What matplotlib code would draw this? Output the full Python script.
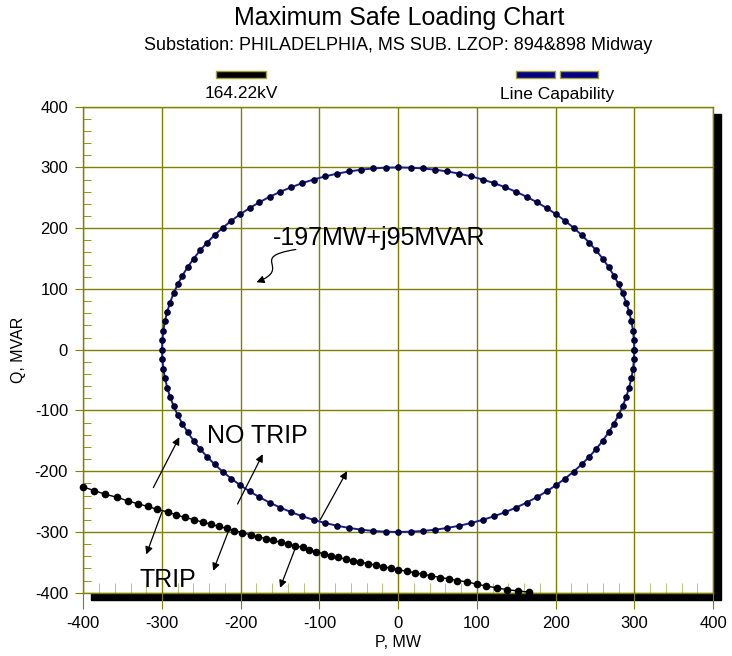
import numpy as np
import matplotlib
matplotlib.use("Agg")
import matplotlib.pyplot as plt
from matplotlib.patches import Rectangle, FancyArrowPatch
from matplotlib.path import Path
from matplotlib.ticker import MultipleLocator

plt.rcParams['font.family'] = ['Liberation Sans', 'DejaVu Sans']
plt.rcParams['axes.unicode_minus'] = False

# ---------------------------
# Datos
# ---------------------------
# Curva de capacidad de linea (MW, MVAR)
CAP_P = [300.0, 299.6, 298.4, 296.3, 293.4, 289.8, 285.3, 280.1, 274.1, 267.3,
         259.8, 251.6, 242.7, 233.1, 222.9, 212.1, 200.7, 188.8, 176.3, 163.4,
         150.0, 136.2, 122.0, 107.5, 92.7, 77.6, 62.4, 46.9, 31.4, 15.7,
         0.0, -15.7, -31.4, -46.9, -62.4, -77.6, -92.7, -107.5, -122.0, -136.2,
         -150.0, -163.4, -176.3, -188.8, -200.7, -212.1, -222.9, -233.1, -242.7, -251.6,
         -259.8, -267.3, -274.1, -280.1, -285.3, -289.8, -293.4, -296.3, -298.4, -299.6,
         -300.0, -299.6, -298.4, -296.3, -293.4, -289.8, -285.3, -280.1, -274.1, -267.3,
         -259.8, -251.6, -242.7, -233.1, -222.9, -212.1, -200.7, -188.8, -176.3, -163.4,
         -150.0, -136.2, -122.0, -107.5, -92.7, -77.6, -62.4, -46.9, -31.4, -15.7,
         0.0, 15.7, 31.4, 46.9, 62.4, 77.6, 92.7, 107.5, 122.0, 136.2,
         150.0, 163.4, 176.3, 188.8, 200.7, 212.1, 222.9, 233.1, 242.7, 251.6,
         259.8, 267.3, 274.1, 280.1, 285.3, 289.8, 293.4, 296.3, 298.4, 299.6,
         300.0]
CAP_Q = [0.0, 15.7, 31.4, 46.9, 62.4, 77.6, 92.7, 107.5, 122.0, 136.2,
         150.0, 163.4, 176.3, 188.8, 200.7, 212.1, 222.9, 233.1, 242.7, 251.6,
         259.8, 267.3, 274.1, 280.1, 285.3, 289.8, 293.4, 296.3, 298.4, 299.6,
         300.0, 299.6, 298.4, 296.3, 293.4, 289.8, 285.3, 280.1, 274.1, 267.3,
         259.8, 251.6, 242.7, 233.1, 222.9, 212.1, 200.7, 188.8, 176.3, 163.4,
         150.0, 136.2, 122.0, 107.5, 92.7, 77.6, 62.4, 46.9, 31.4, 15.7,
         0.0, -15.7, -31.4, -46.9, -62.4, -77.6, -92.7, -107.5, -122.0, -136.2,
         -150.0, -163.4, -176.3, -188.8, -200.7, -212.1, -222.9, -233.1, -242.7, -251.6,
         -259.8, -267.3, -274.1, -280.1, -285.3, -289.8, -293.4, -296.3, -298.4, -299.6,
         -300.0, -299.6, -298.4, -296.3, -293.4, -289.8, -285.3, -280.1, -274.1, -267.3,
         -259.8, -251.6, -242.7, -233.1, -222.9, -212.1, -200.7, -188.8, -176.3, -163.4,
         -150.0, -136.2, -122.0, -107.5, -92.7, -77.6, -62.4, -46.9, -31.4, -15.7,
         0.0]

# Limite de disparo a 164.22 kV (MW, MVAR)
KV_P = [-400, -386, -372, -357, -343, -330, -318, -306, -293, -282,
        -271, -259, -248, -238, -228, -218, -208, -198, -187, -178,
        -168, -159, -149, -140, -131, -121, -113, -104, -94, -85,
        -76, -66, -57, -48, -38, -28, -19, -9, 0, 11,
        21, 32, 42, 53, 64, 75, 87, 100, 112, 125,
        138, 152, 166]
KV_Q = [-226, -232, -238, -243, -249, -254, -258, -263, -267, -272,
        -276, -280, -284, -287, -291, -294, -298, -301, -305, -308,
        -311, -314, -317, -320, -323, -325, -329, -333, -336, -339,
        -342, -345, -347, -350, -352, -355, -357, -360, -362, -365,
        -367, -370, -372, -375, -377, -380, -382, -386, -389, -392,
        -395, -397, -399]

# Flechas (inicio -> fin) en coordenadas MW, MVAR
ARROWS_UP = [((-311, -227), (-278, -144)),
             ((-204, -254), (-172, -172)),
             ((-99, -280), (-65, -200))]
ARROWS_DOWN = [((-300, -267), (-320, -337)),
               ((-216, -300), (-235, -364)),
               ((-129, -321), (-150, -392))]

OLIVE = '#808000'
W, H = 732, 656

# ---------------------------
# Figura
# ---------------------------
fig = plt.figure(figsize=(W / 100, H / 100), dpi=100)
x0, x1, y0, y1 = 83.3, 713.0, 106.7, 592.7   # pixeles del area de trazado
ax = fig.add_axes([x0 / W, 1 - y1 / H, (x1 - x0) / W, (y1 - y0) / H])

# sombra negra detras del area
off = 7.5
fig.patches.append(Rectangle(((x0 + off) / W, 1 - (y1 + off) / H),
                             (x1 - x0) / W, (y1 - y0) / H,
                             transform=fig.transFigure, color='black', zorder=-5))

ax.set_xlim(-400, 400)
ax.set_ylim(-400, 400)
ax.xaxis.set_major_locator(MultipleLocator(100))
ax.yaxis.set_major_locator(MultipleLocator(100))
ax.xaxis.set_minor_locator(MultipleLocator(20))
ax.yaxis.set_minor_locator(MultipleLocator(20))
ax.grid(True, which='major', color=OLIVE, lw=1)
for s in ax.spines.values():
    s.set_color(OLIVE)
    s.set_linewidth(1)

ax.tick_params(axis='x', which='major', direction='out', length=11.5, color=OLIVE,
               labelsize=12, pad=5)
ax.tick_params(axis='x', which='minor', direction='in', length=7, color='#b4b460')
ax.tick_params(axis='y', which='major', direction='out', length=6, color=OLIVE,
               labelsize=12, pad=5)
ax.tick_params(axis='y', which='minor', direction='in', length=6, color=OLIVE)

ax.set_xlabel("P, MW", fontsize=11.5, labelpad=3)
ax.set_ylabel("Q, MVAR", fontsize=11.5, labelpad=6)

# curvas
ax.plot(CAP_P, CAP_Q, color='#1c1c8e', lw=1.4, marker='o', markersize=3.8,
        markerfacecolor='#00003a', markeredgecolor='#00003a', zorder=3, clip_on=False)
ax.plot(KV_P, KV_Q, color='black', lw=1, marker='o', markersize=4.5,
        markerfacecolor='black', markeredgecolor='black', zorder=3, clip_on=False)

# flechas TRIP / NO TRIP
for (a, b) in ARROWS_UP + ARROWS_DOWN:
    ax.annotate("", xy=b, xytext=a,
                arrowprops=dict(arrowstyle='-|>', color='black', lw=0.9,
                                mutation_scale=11, shrinkA=0, shrinkB=0))

ax.text(-243, -153, "NO TRIP", fontsize=18, ha='left', va='baseline')
ax.text(-329, -390, "TRIP", fontsize=18, ha='left', va='baseline')
ax.text(-159, 172, "-197MW+j95MVAR", fontsize=18, ha='left', va='baseline')

# flecha en S hacia el punto de operacion
verts = [(-130, 165), (-192, 152), (-133, 135), (-180, 111)]
codes = [Path.MOVETO, Path.CURVE4, Path.CURVE4, Path.CURVE4]
ax.add_patch(FancyArrowPatch(path=Path(verts, codes), arrowstyle='-|>',
                             mutation_scale=11, color='black', lw=0.9))

# titulos
fig.text(399 / W, 1 - 18 / H, "Maximum Safe Loading Chart", fontsize=18,
         ha='center', va='center')
fig.text(398 / W, 1 - 46 / H, "Substation: PHILADELPHIA, MS SUB. LZOP: 894&898 Midway",
         fontsize=13, ha='center', va='center')

# leyenda manual
def bar(px, py, pw, ph, fc):
    fig.patches.append(Rectangle((px / W, 1 - (py + ph) / H), pw / W, ph / H,
                                 transform=fig.transFigure, facecolor=fc,
                                 edgecolor='#a0a040', lw=1))

bar(216, 71, 50, 7, 'black')
bar(516, 71, 39, 7, '#000080')
bar(560, 71, 38, 7, '#000080')
fig.text(241 / W, 1 - 94 / H, "164.22kV", fontsize=12.5, ha='center', va='center')
fig.text(557 / W, 1 - 95 / H, "Line Capability", fontsize=12.5, ha='center', va='center')

fig.savefig("out.png", dpi=100)
